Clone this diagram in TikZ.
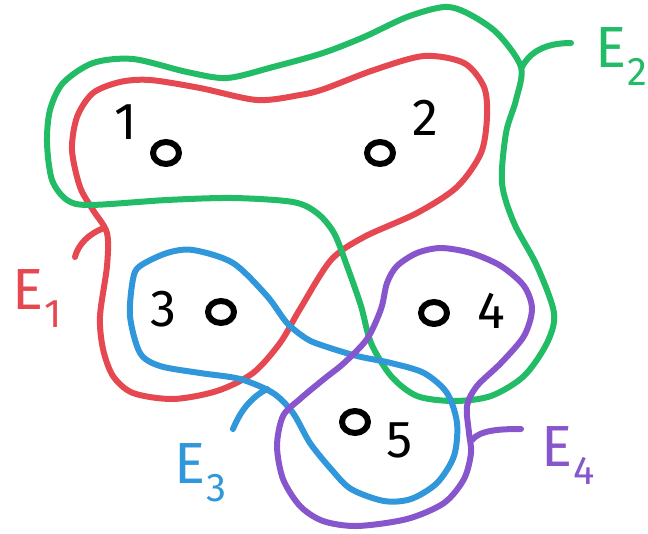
\documentclass[tikz,border=0pt]{standalone}
\usepackage{fontspec}
\setmainfont{Fira Sans}
\usetikzlibrary{shapes.geometric}

\definecolor{eone}{RGB}{230,72,82}
\definecolor{etwo}{RGB}{34,187,102}
\definecolor{ethree}{RGB}{48,152,218}
\definecolor{efour}{RGB}{136,86,204}

% edge name with a dropped index
\newcommand{\Esub}[1]{E\hspace{1pt}\raisebox{-0.32em}{\fontsize{40}{40}\selectfont #1}}

\begin{document}
\begin{tikzpicture}[x=1pt,y=-1pt,line cap=round,line join=round,
  hedge/.style={line width=6pt},
  vtx/.style={ellipse,draw,line width=6pt,minimum width=26pt,minimum height=22pt,inner sep=0pt},
  num/.style={font=\fontsize{52}{52}\selectfont,inner sep=0pt},
  elbl/.style={font=\fontsize{58}{58}\selectfont,inner sep=0pt,anchor=base west}]

\useasboundingbox (0,0) rectangle (648,533);

% E1
\draw[hedge,eone] plot[smooth cycle] coordinates {
(72,150) (77,117) (93,93) (120,82) (150,80) (200,88) (257,100) (300,95)
(324,89) (374,70) (424,56) (464,63) (484,87) (487,117) (481,153) (457,187)
(417,213) (364,237) (331,260) (300,309) (280,343) (253,373) (217,391)
(173,399) (133,393) (113,376) (103,349) (100,316) (107,266) (107,233)
(93,210) (80,187)};

% E2
\draw[hedge,etwo] plot[smooth cycle] coordinates {
(63,83) (93,63) (133,59) (187,72) (227,78) (273,67) (323,53) (364,37)
(407,17) (444,7) (467,13) (497,33) (521,67) (516,100) (506,133) (502,183)
(514,223) (537,266) (554,313) (547,343) (524,376) (491,396) (454,401)
(417,396) (391,376) (371,343) (361,306) (347,266) (334,233) (317,213)
(293,202) (233,198) (167,200) (90,205) (67,200) (52,180) (47,143) (50,110)};

% E3
\draw[hedge,ethree] plot[smooth cycle] coordinates {
(140,266) (167,253) (193,250) (233,263) (267,296) (287,323) (307,339)
(324,346) (357,356) (391,363) (424,373) (447,393) (457,423) (454,456)
(437,483) (411,499) (384,501) (351,489) (331,469) (310,443) (293,413)
(273,393) (240,379) (200,373) (160,366) (140,353) (130,316) (133,279)};

% E4
\draw[hedge,efour] plot[smooth cycle] coordinates {
(397,266) (417,253) (441,248) (471,253) (501,266) (524,286) (532,309)
(524,336) (501,363) (477,386) (467,406) (469,433) (471,453) (464,479)
(444,503) (407,519) (357,526) (323,521) (300,506) (283,479) (277,446)
(283,416) (300,399) (324,379) (344,363) (367,339) (381,309) (387,283)};

% Vertices
\node[vtx] (v1) at (166,153) {};
\node[vtx] (v2) at (380,153) {};
\node[vtx] (v3) at (221,312) {};
\node[vtx] (v4) at (434,313) {};
\node[vtx] (v5) at (355,422) {};

\node[num] (n1) at (126,122) {1};
\node[num] (n2) at (425,118) {2};
\node[num] (n3) at (163,309) {3};
\node[num] (n4) at (491,311) {4};
\node[num] (n5) at (400,440) {5};

% Edge names with their tails
\coordinate (a1) at (104,228);
\coordinate (b1) at (75,257);
\draw[hedge,eone] (a1) .. controls (88,234) and (78,245) .. (b1);
\node[elbl,text=eone] (e1) at (12,309) {\Esub{1}};

\coordinate (a2) at (522,67);
\coordinate (b2) at (571,43);
\draw[hedge,etwo] (a2) .. controls (530,52) and (545,43) .. (b2);
\node[elbl,text=etwo] (e2) at (595,67) {\Esub{2}};

\coordinate (a3) at (267,389);
\coordinate (b3) at (233,429);
\draw[hedge,ethree] (a3) .. controls (250,398) and (240,412) .. (b3);
\node[elbl,text=ethree] (e3) at (174,483) {\Esub{3}};

\coordinate (a4) at (472,440);
\coordinate (b4) at (521,429);
\draw[hedge,efour] (a4) .. controls (480,430) and (500,429) .. (b4);
\node[elbl,text=efour] (e4) at (541,466) {\Esub{4}};

\end{tikzpicture}
\end{document}
